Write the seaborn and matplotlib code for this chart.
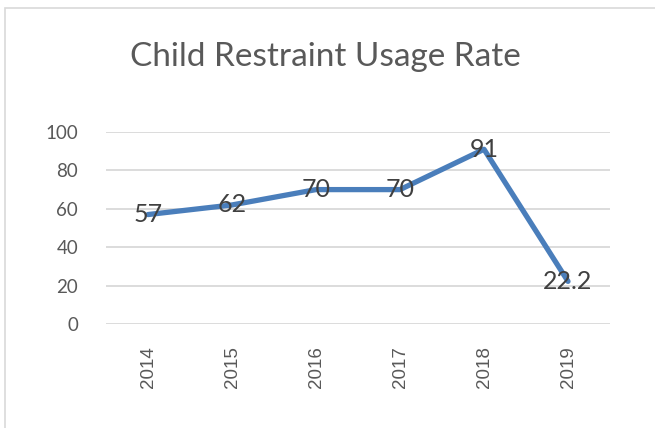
import pandas as pd
import matplotlib.pyplot as plt
import seaborn as sns
from matplotlib.patches import Rectangle

# Data
years = ['2014', '2015', '2016', '2017', '2018', '2019']
rates = [57, 62, 70, 70, 91, 22.2]
rate_labels = ['57', '62', '70', '70', '91', '22.2']
y_ticks = [0, 20, 40, 60, 80, 100]

df = pd.DataFrame({'Year': years, 'Rate': rates})

sns.set_style('white')
plt.rcParams['font.family'] = ['Lato', 'DejaVu Sans']

fig = plt.figure(figsize=(6.55, 4.28), dpi=100)
ax = fig.add_axes([106 / 655, 1 - 324 / 428, 504 / 655, 192 / 428])

# chart border like an Excel chart area
fig.patches.append(Rectangle((5 / 655, -0.1), 1.2, 1 - 8 / 428 + 0.1, transform=fig.transFigure,
                             fill=False, edgecolor='#D9D9D9', linewidth=1.2))

sns.lineplot(data=df, x='Year', y='Rate', ax=ax, color='#4A7EBB', linewidth=3.8,
             solid_joinstyle='round', solid_capstyle='round')

# data labels centered on points
for i, (v, lab) in enumerate(zip(rates, rate_labels)):
    ax.text(i, v, lab, ha='center', va='center', fontsize=18, color='#404040')

ax.set_xlim(-0.5, len(years) - 0.5)
ax.set_ylim(0, 100)
ax.set_yticks(y_ticks)
ax.yaxis.grid(True, color='#D9D9D9', linewidth=1.3)
ax.set_axisbelow(True)
for s in ax.spines.values():
    s.set_visible(False)
ax.tick_params(axis='y', length=0, pad=20, labelsize=13.5, labelcolor='#595959')
ax.tick_params(axis='x', length=0, pad=16, labelsize=13.5, labelcolor='#595959')
for t in ax.get_xticklabels():
    t.set_rotation(90)
    t.set_family(['Liberation Sans', 'DejaVu Sans'])
ax.set_xlabel('')
ax.set_ylabel('')

fig.text(325 / 655, 1 - 57 / 428, 'Child Restraint Usage Rate', ha='center', va='center',
         fontsize=24, color='#595959')

fig.savefig('out.png', dpi=100)
